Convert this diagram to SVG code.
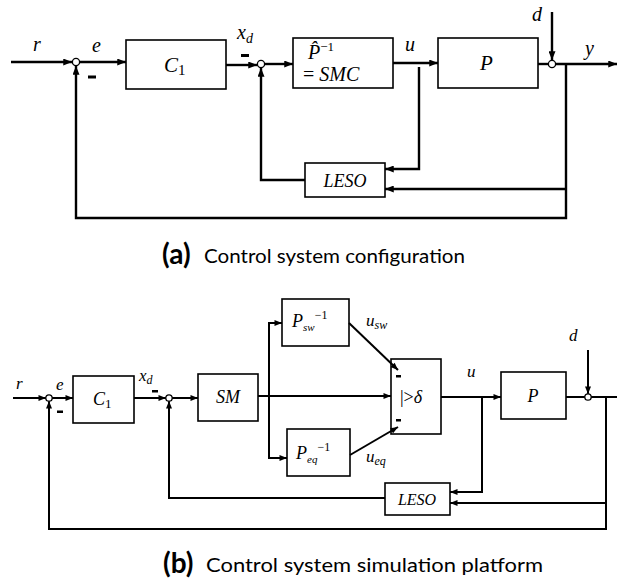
<svg xmlns="http://www.w3.org/2000/svg" width="617" height="581" viewBox="0 0 617 581">
<style>
.bx{fill:#fff;stroke:#000;stroke-width:1.6}
.ln{fill:none;stroke:#000;stroke-width:2.4}
.ln2{fill:none;stroke:#000;stroke-width:2}
.sum{fill:#fff;stroke:#000;stroke-width:1.3}
.m{font-family:"Liberation Serif","DejaVu Serif",serif;font-style:italic;fill:#000}
.n{font-style:normal}
.cap{font-family:Lato,"Open Sans",sans-serif;fill:#000}
</style>
<defs>
<marker id="ah" viewBox="0 0 10 8" refX="10" refY="4" markerWidth="9" markerHeight="7" markerUnits="userSpaceOnUse" orient="auto"><path d="M0,0L10,4L0,8z" fill="#000"/></marker>
<marker id="ah2" viewBox="0 0 10 8" refX="10" refY="4" markerWidth="8" markerHeight="6" markerUnits="userSpaceOnUse" orient="auto"><path d="M0,0L10,4L0,8z" fill="#000"/></marker>
</defs>

<g id="C1-a"><rect class="bx" x="126" y="40" width="100" height="49"/>
<text class="m" x="164" y="72" font-size="21">C<tspan class="n" font-size="15" dy="3">1</tspan></text></g>
<g id="SMC-a"><rect class="bx" x="293" y="38" width="100" height="50"/>
<text class="m" x="308" y="59" font-size="20">P̂<tspan class="n" font-size="13" dy="-8">−1</tspan></text>
<text class="m" x="303" y="81" font-size="20"><tspan class="n">=</tspan> SMC</text></g>
<g id="P-a"><rect class="bx" x="438" y="38" width="100" height="50"/>
<text class="m" x="480" y="70" font-size="21">P</text></g>
<g id="LESO-a"><rect class="bx" x="305" y="163" width="80" height="34"/>
<text class="m" x="345" y="187" font-size="18" text-anchor="middle">LESO</text></g>

<g id="labels-a">
<text class="m" x="33" y="51" font-size="20">r</text>
<text class="m" x="92" y="52" font-size="20">e</text>
<text class="m" x="237" y="39" font-size="20">x<tspan font-size="14" dy="4">d</tspan></text>
<text class="m" x="405" y="51" font-size="20">u</text>
<text class="m" x="532" y="21" font-size="20">d</text>
<text class="m" x="585" y="55" font-size="20">y</text>
<rect x="88" y="75.5" width="8" height="3" fill="#000"/>
<rect x="241" y="54" width="8" height="3" fill="#000"/>
</g>

<g id="caption-a">
<text class="cap" x="162" y="264" font-size="28" font-weight="bold">(a)</text>
<text class="cap" x="204" y="263" font-size="18.5" textLength="261" lengthAdjust="spacingAndGlyphs">Control system configuration</text>
</g>

<g id="C1-b"><rect class="bx" x="73" y="376" width="61" height="47"/>
<text class="m" x="93" y="405" font-size="18">C<tspan class="n" font-size="13" dy="3">1</tspan></text></g>
<g id="SM-b"><rect class="bx" x="198" y="374" width="60" height="47"/>
<text class="m" x="228" y="403" font-size="18" text-anchor="middle">SM</text></g>
<g id="Psw-b"><rect class="bx" x="282" y="299" width="67" height="47"/>
<text class="m" x="292" y="327" font-size="18">P<tspan font-size="11" dy="4">sw</tspan><tspan class="n" font-size="12" dy="-12">−1</tspan></text></g>
<g id="Peq-b"><rect class="bx" x="287" y="429" width="63" height="47"/>
<text class="m" x="296" y="459" font-size="18">P<tspan font-size="11" dy="4">eq</tspan><tspan class="n" font-size="12" dy="-12">−1</tspan></text></g>
<g id="sat-b"><rect class="bx" x="391" y="359" width="50" height="75"/>
<text class="m" x="400" y="403" font-size="18"><tspan class="n">|&gt;</tspan>δ</text></g>
<g id="P-b"><rect class="bx" x="501" y="372" width="65" height="47"/>
<text class="m" x="533" y="402" font-size="18" text-anchor="middle">P</text></g>
<g id="LESO-b"><rect class="bx" x="385" y="483" width="65" height="32"/>
<text class="m" x="417" y="505" font-size="16" text-anchor="middle">LESO</text></g>

<g id="labels-b">
<text class="m" x="16" y="389" font-size="17">r</text>
<text class="m" x="56" y="390" font-size="17">e</text>
<text class="m" x="139" y="381" font-size="17">x<tspan font-size="12" dy="3">d</tspan></text>
<text class="m" x="366" y="326" font-size="17">u<tspan font-size="12" dy="3">sw</tspan></text>
<text class="m" x="366" y="462" font-size="17">u<tspan font-size="12" dy="3">eq</tspan></text>
<text class="m" x="467" y="377" font-size="17">u</text>
<text class="m" x="569" y="341" font-size="17">d</text>
<rect x="57" y="410.5" width="6" height="2.5" fill="#000"/>
<rect x="152" y="390" width="6" height="2.5" fill="#000"/>
<rect x="396" y="375" width="5" height="2.5" fill="#000"/>
<rect x="396" y="419" width="5" height="2.5" fill="#000"/>
</g>

<g id="caption-b">
<text class="cap" x="163" y="573" font-size="28" font-weight="bold">(b)</text>
<text class="cap" x="206" y="572" font-size="18.5" textLength="337" lengthAdjust="spacingAndGlyphs">Control system simulation platform</text>
</g>

<g id="connectors-a">
<path class="ln" d="M11,62H72" marker-end="url(#ah)"/>
<path class="ln" d="M80,62H126" marker-end="url(#ah)"/>
<path class="ln" d="M226,65H257" marker-end="url(#ah)"/>
<path class="ln" d="M265,64H293" marker-end="url(#ah)"/>
<path class="ln" d="M393,63H438" marker-end="url(#ah)"/>
<path class="ln" d="M538,64H548"/>
<path class="ln" d="M556,64H617" marker-end="url(#ah)"/>
<path class="ln" d="M552,12V60" marker-end="url(#ah)"/>
<path class="ln" d="M566,64V218H76V66" marker-end="url(#ah)"/>
<path class="ln" d="M566,189H385" marker-end="url(#ah)"/>
<path class="ln" d="M419,67V169H385" marker-end="url(#ah)"/>
<path class="ln" d="M305,180H261V68" marker-end="url(#ah)"/>
</g>
<g id="sum-a1"><circle class="sum" cx="76" cy="62" r="3.6"/></g>
<g id="sum-a2"><circle class="sum" cx="261" cy="64" r="3.6"/></g>
<g id="sum-a3"><circle class="sum" cx="552" cy="64" r="3.6"/></g>

<g id="connectors-b">
<path class="ln2" d="M13,398H46" marker-end="url(#ah2)"/>
<path class="ln2" d="M52,398H73" marker-end="url(#ah2)"/>
<path class="ln2" d="M134,398H166" marker-end="url(#ah2)"/>
<path class="ln2" d="M172,398H198" marker-end="url(#ah2)"/>
<path class="ln2" d="M258,396H391" marker-end="url(#ah2)"/>
<path class="ln2" d="M282,323H269V458H287" marker-end="url(#ah2)"/>
<path class="ln2" d="M269,323H282" marker-end="url(#ah2)"/>
<path class="ln2" d="M349,323L398,370" marker-end="url(#ah2)"/>
<path class="ln2" d="M350,455L398,427" marker-end="url(#ah2)"/>
<path class="ln2" d="M441,397H501" marker-end="url(#ah2)"/>
<path class="ln2" d="M566,397H585"/>
<path class="ln2" d="M591,397H617"/>
<path class="ln2" d="M588,350V394" marker-end="url(#ah2)"/>
<path class="ln2" d="M606,397V529H49V401" marker-end="url(#ah2)"/>
<path class="ln2" d="M606,503H450" marker-end="url(#ah2)"/>
<path class="ln2" d="M482,397V492H450" marker-end="url(#ah2)"/>
<path class="ln2" d="M385,498H169V401" marker-end="url(#ah2)"/>
</g>
<g id="sum-b1"><circle class="sum" cx="49" cy="398" r="3.2"/></g>
<g id="sum-b2"><circle class="sum" cx="169" cy="398" r="3.2"/></g>
<g id="sum-b3"><circle class="sum" cx="588" cy="397" r="3.2"/></g>
</svg>
